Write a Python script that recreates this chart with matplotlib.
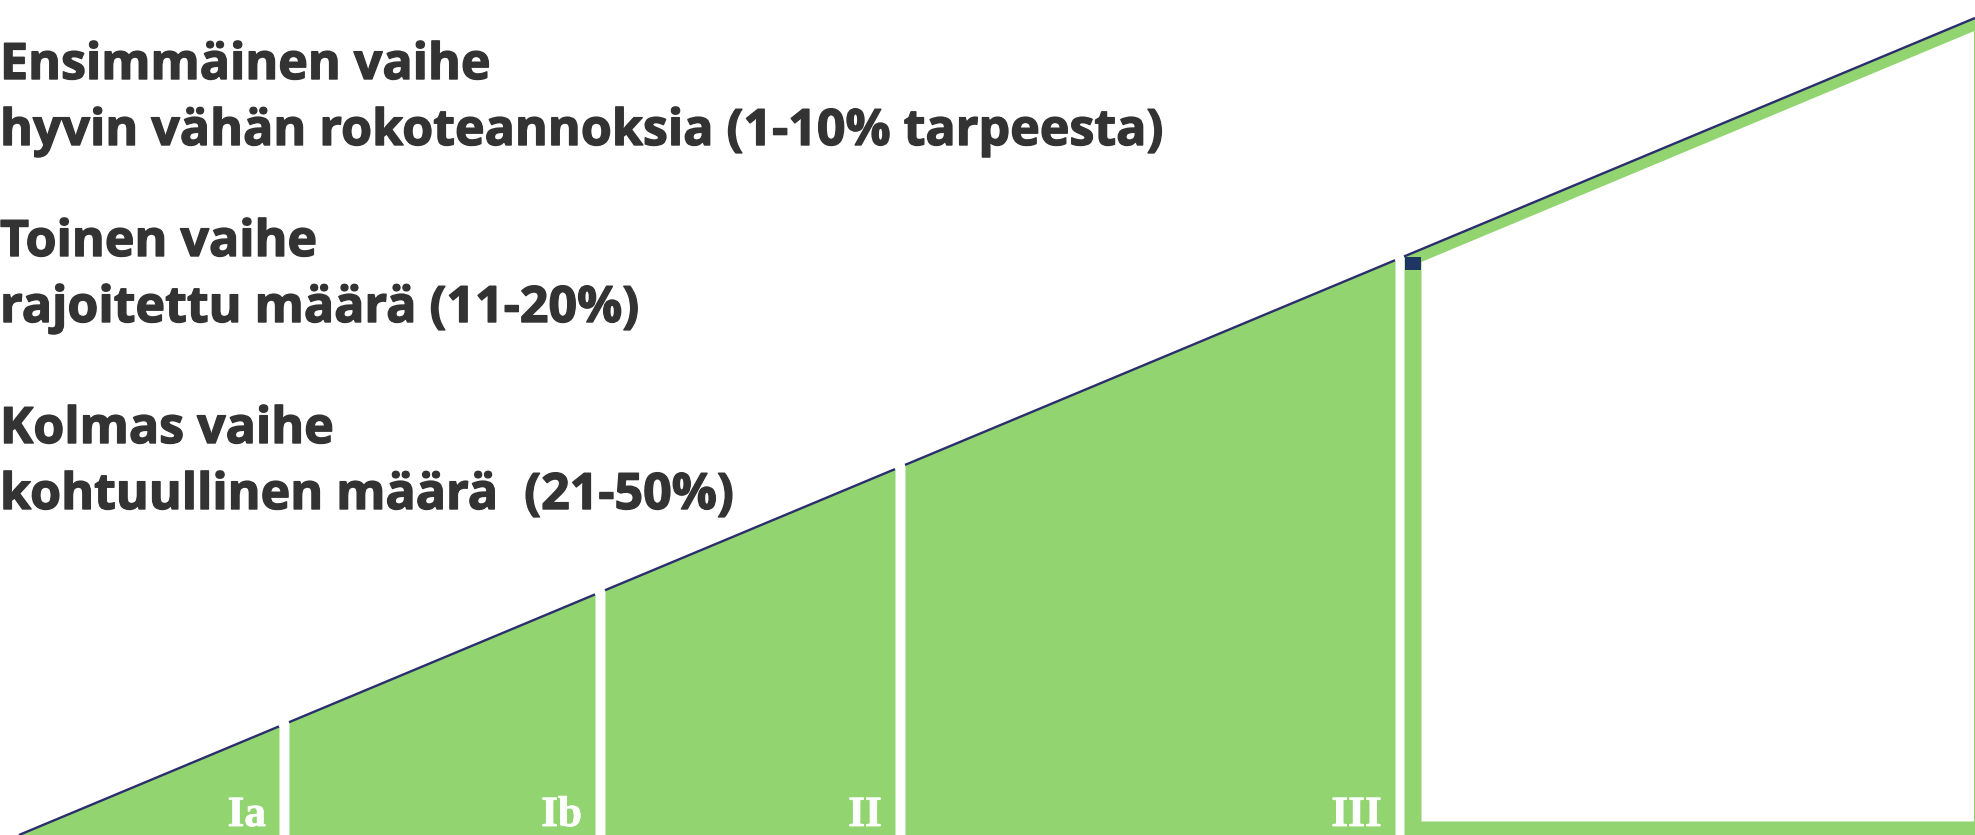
import numpy as np
import matplotlib
matplotlib.use("Agg")
import matplotlib.pyplot as plt
import matplotlib.patheffects as pe

# Vaiheet (rokotusjärjestys)
phase_labels = ["Ia", "Ib", "II", "III"]
phase_left = [19, 289, 605, 905]
phase_right = [279, 595, 895, 1395]

# Viimeinen (ääriviivattu) osa
last_left = 1404
last_right = 1975

# Rampin alku- ja loppupiste
ramp_x = [19, 1975]
ramp_y = [0, 817]

headings = ["Ensimmäinen vaihe", "Toinen vaihe", "Kolmas vaihe"]
details = [
    "hyvin vähän rokoteannoksia (1-10% tarpeesta)",
    "rajoitettu määrä (11-20%)",
    "kohtuullinen määrä  (21-50%)",
]

# Tyylit
GREEN = "#91d470"
NAVY = "#2b2e6c"
SQUARE = "#1f3563"
TEXT = "#333333"
W, H = 1975, 835


def ramp(x):
    return np.interp(x, ramp_x, ramp_y)


fig = plt.figure(figsize=(W / 100, H / 100), dpi=100)
ax = fig.add_axes([0, 0, 1, 1])
ax.set_xlim(0, W)
ax.set_ylim(0, H)
ax.axis("off")

for lab, x0, x1 in zip(phase_labels, phase_left, phase_right):
    xs = np.linspace(x0, x1, 50)
    ax.fill_between(xs, 0, ramp(xs), color=GREEN, lw=0)
    ax.plot(xs, ramp(xs), color=NAVY, lw=1.7, solid_capstyle="butt")
    ax.text(x1 - 13, 9, lab, ha="right", va="baseline", color="white",
            fontsize=31, fontweight="bold", family="Liberation Serif",
            path_effects=[pe.withStroke(linewidth=0.6, foreground="white")])

# Viimeinen osa: vihreä reunus, valkoinen sisus
xs = np.linspace(last_left, last_right, 50)
ax.fill_between(xs, 0, ramp(xs), color=GREEN, lw=0)
band_side, band_bottom, band_top = 17, 14, 12
xi = np.linspace(last_left + band_side, last_right - 1.5, 50)
ax.fill_between(xi, band_bottom, ramp(xi) - band_top, color="white", lw=0)
ax.plot(xs, ramp(xs), color=NAVY, lw=1.7, solid_capstyle="butt")
ax.add_patch(plt.Rectangle((last_left + 1, ramp(last_left) - 13), 16, 13,
                           color=SQUARE, lw=0))

# Tekstit vasemmalla
thick = [pe.withStroke(linewidth=1.0, foreground=TEXT)]
base = [H - 79, H - 256, H - 443]
for y, h, d in zip(base, headings, details):
    ax.text(0, y, h, ha="left", va="baseline", color=TEXT,
            fontsize=36.1, fontweight="bold", family="Open Sans",
            path_effects=thick)
    ax.text(0, y - 66, d, ha="left", va="baseline", color=TEXT,
            fontsize=36.1, fontweight="bold", family="Open Sans",
            path_effects=thick)

fig.savefig("out.png", dpi=100)
